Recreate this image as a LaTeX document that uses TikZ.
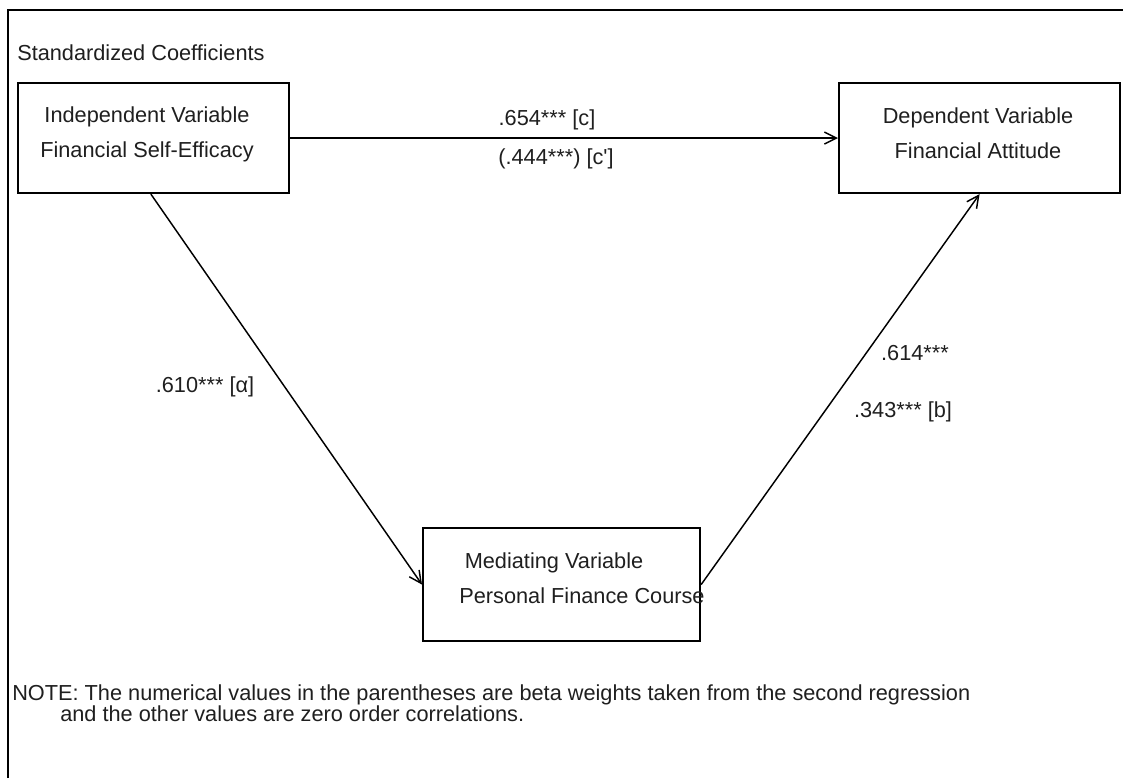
\documentclass[tikz,border=0pt]{standalone}
\usepackage{fontspec}
\newfontfamily\arial{Liberation Sans}
\usetikzlibrary{arrows.meta,calc}
\tikzset{
  boxnode/.style={draw=black, line width=1.6pt, rectangle, inner sep=0pt, anchor=north west},
  txt/.style={font=\arial\fontsize{16.3}{19}\selectfont, text=black!88, inner sep=0pt, anchor=base},
  ltxt/.style={txt, anchor=base west},
  arr/.style={draw=black, line width=1.1pt, -{Straight Barb[length=9pt,width=9pt,line width=1.1pt]}},
  frameline/.style={draw=black, line width=1.6pt}
}
\begin{document}
\begin{tikzpicture}[x=0.75pt,y=-0.75pt]
\useasboundingbox (0,0) rectangle (1123,778);
\draw[frameline] (8,778) -- (8,10) -- (1123,10);
\node[ltxt] (title) at (17,60) {Standardized Coefficients};
% boxes
\node[boxnode, minimum width=203.25pt, minimum height=82.5pt] (A) at (17,82) {};
\node[boxnode, minimum width=210.75pt, minimum height=82.5pt] (B) at (838,82) {};
\node[boxnode, minimum width=207.75pt, minimum height=84.75pt] (C) at (422,527) {};
% box texts
\node[txt] (A1) at (147,122) {Independent Variable};
\node[txt] (A2) at (147,157) {Financial Self-Efficacy};
\node[txt] (B1) at (978,123) {Dependent Variable};
\node[txt] (B2) at (978,158) {Financial Attitude};
\node[txt] (C1) at (554,568) {Mediating Variable};
\node[txt] (C2) at (582,603) {Personal Finance Course};
% connectors
\draw[arr] (A.east) -- (B.west);
\draw[arr] ([xshift=-2pt]A.south) -- (C.west);
\draw[arr] (C.east) -- (B.south);
% connector labels
\node[txt] (c) at (547,125) {.654*** [c]};
\node[txt] (cp) at (556,164) {(.444***) [c\symbol{39}]};
\node[txt] (a) at (205,392) {.610*** [α]};
\node[txt] (b1) at (915,360) {.614***};
\node[txt] (b2) at (903,417) {.343*** [b]};
% note
\node[ltxt] (n1) at (12,700) {NOTE: The numerical values in the parentheses are beta weights taken from the second regression};
\node[ltxt] (n2) at (60,721) {and the other values are zero order correlations.};
\end{tikzpicture}
\end{document}
